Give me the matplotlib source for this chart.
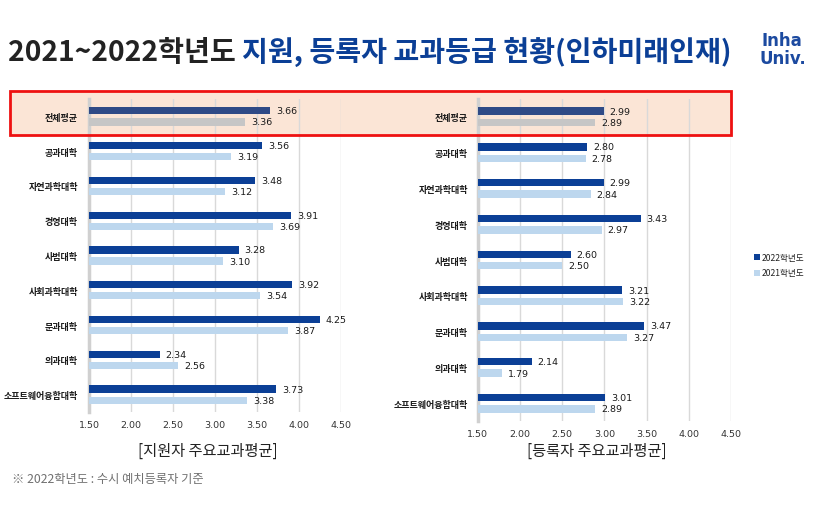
import matplotlib
matplotlib.use("Agg")
import matplotlib.pyplot as plt
from matplotlib.patches import Rectangle

plt.rcParams['font.family'] = ['Noto Sans CJK KR', 'DejaVu Sans']

categories = ['전체평균', '공과대학', '자연과학대학', '경영대학', '사범대학',
              '사회과학대학', '문과대학', '의과대학', '소프트웨어융합대학']
applicant_2022 = [3.66, 3.56, 3.48, 3.91, 3.28, 3.92, 4.25, 2.34, 3.73]
applicant_2021 = [3.36, 3.19, 3.12, 3.69, 3.10, 3.54, 3.87, 2.56, 3.38]
enrolled_2022 = [2.99, 2.80, 2.99, 3.43, 2.60, 3.21, 3.47, 2.14, 3.01]
enrolled_2021 = [2.89, 2.78, 2.84, 2.97, 2.50, 3.22, 3.27, 1.79, 2.89]
xticks = [1.50, 2.00, 2.50, 3.00, 3.50, 4.00, 4.50]
legend_labels = ['2022학년도', '2021학년도']

DARK = '#0b3f96'
LIGHT = '#bdd7ee'
AVG_DARK = '#2f4a86'
AVG_LIGHT = '#c6c6c6'
NUMFONT = ['DejaVu Sans']

W, H = 824, 510
fig = plt.figure(figsize=(W / 100, H / 100), dpi=100)

def fx(px):
    return px / W

def fy(py):
    return 1 - py / H

# highlight box
fig.patches.append(Rectangle((fx(10), fy(136)), fx(731) - fx(10), fy(92) - fy(136),
                             transform=fig.transFigure, facecolor='#fbe5d6',
                             edgecolor='none', zorder=-5))
fig.patches.append(Rectangle((fx(10), fy(136)), fx(731) - fx(10), fy(92) - fy(136),
                             transform=fig.transFigure, facecolor='none',
                             edgecolor='#ee1111', linewidth=2, zorder=20))


def panel(rect, v22, v21, title, title_y, label_pad):
    ax = fig.add_axes(rect)
    ax.set_facecolor('none')
    n = len(categories)
    ys = list(range(n))
    h = 0.21
    off = 0.16
    c22 = [AVG_DARK] + [DARK] * (n - 1)
    c21 = [AVG_LIGHT] + [LIGHT] * (n - 1)
    left = xticks[0]
    ax.barh([y - off for y in ys], [v - left for v in v22], left=left, height=h,
            color=c22, zorder=3)
    ax.barh([y + off for y in ys], [v - left for v in v21], left=left, height=h,
            color=c21, zorder=3)
    for y, v in zip(ys, v22):
        ax.text(v + 0.07, y - off, f'{v:.2f}', va='center', ha='left',
                fontsize=6.8, color='#1a1a1a', zorder=4, family=NUMFONT)
    for y, v in zip(ys, v21):
        ax.text(v + 0.07, y + off, f'{v:.2f}', va='center', ha='left',
                fontsize=6.8, color='#1a1a1a', zorder=4, family=NUMFONT)
    ax.set_xlim(xticks[0], xticks[-1])
    ax.set_ylim(n - 0.5, -0.5)
    ax.set_xticks(xticks)
    ax.set_xticklabels([f'{t:.2f}' for t in xticks], fontsize=6.8, color='#333333',
                       family=NUMFONT)
    ax.set_yticks(ys)
    ax.set_yticklabels(categories, fontsize=6.5, color='#1a1a1a', fontweight='bold')
    ax.tick_params(axis='both', length=0)
    ax.tick_params(axis='y', pad=label_pad)
    ax.tick_params(axis='x', pad=6)
    for s in ['top', 'right', 'bottom']:
        ax.spines[s].set_visible(False)
    ax.spines['left'].set_color('#d0d0d0')
    ax.spines['left'].set_linewidth(2.5)
    ax.spines['left'].set_zorder(2)
    ax.grid(axis='x', color='#d9d9d9', linewidth=1, zorder=0)
    ax.set_axisbelow(True)
    cx = rect[0] + rect[2] * 0.47
    fig.text(cx, fy(title_y), title, ha='center', va='center', fontsize=11,
             color='#222222')
    return ax


panel([fx(89), fy(413), fx(341) - fx(89), fy(100) - fy(413)],
      applicant_2022, applicant_2021, '[지원자 주요교과평균]', 451, 8)
panel([fx(477.7), fy(422), fx(731) - fx(477.7), fy(100) - fy(422)],
      enrolled_2022, enrolled_2021, '[등록자 주요교과평균]', 451, 7)

# legend
for i, (lab, col) in enumerate(zip(legend_labels, [DARK, LIGHT])):
    yy = 258 + i * 15.5
    fig.patches.append(Rectangle((fx(754), fy(yy + 3)), fx(6), fy(yy - 3) - fy(yy + 3),
                                 transform=fig.transFigure, facecolor=col,
                                 edgecolor='none'))
    fig.text(fx(762), fy(yy), lab, ha='left', va='center', fontsize=6.2,
             color='#222222')

# title
t1 = fig.text(fx(8), fy(53), '2021~2022학년도 ', ha='left', va='center',
              fontsize=20.3, fontweight='bold', color='#222222')
fig.canvas.draw()
bb = t1.get_window_extent()
fig.text(bb.x1 / W, fy(53), '지원, 등록자 교과등급 현황(인하미래인재)', ha='left',
         va='center', fontsize=20.3, fontweight='bold', color='#0b3f96')

# logo
fig.text(fx(782), fy(41.5), 'Inha', ha='center', va='center', fontsize=12,
         fontweight='bold', color='#1c4aa0', family=['DejaVu Sans'])
fig.text(fx(783), fy(58.5), 'Univ.', ha='center', va='center', fontsize=12,
         fontweight='bold', color='#1c4aa0', family=['DejaVu Sans'])

# footnote
fig.text(fx(12), fy(480), '※ 2022학년도 : 수시 예치등록자 기준', ha='left', va='center',
         fontsize=8.8, color='#707070')

fig.savefig('out.png', dpi=100)
